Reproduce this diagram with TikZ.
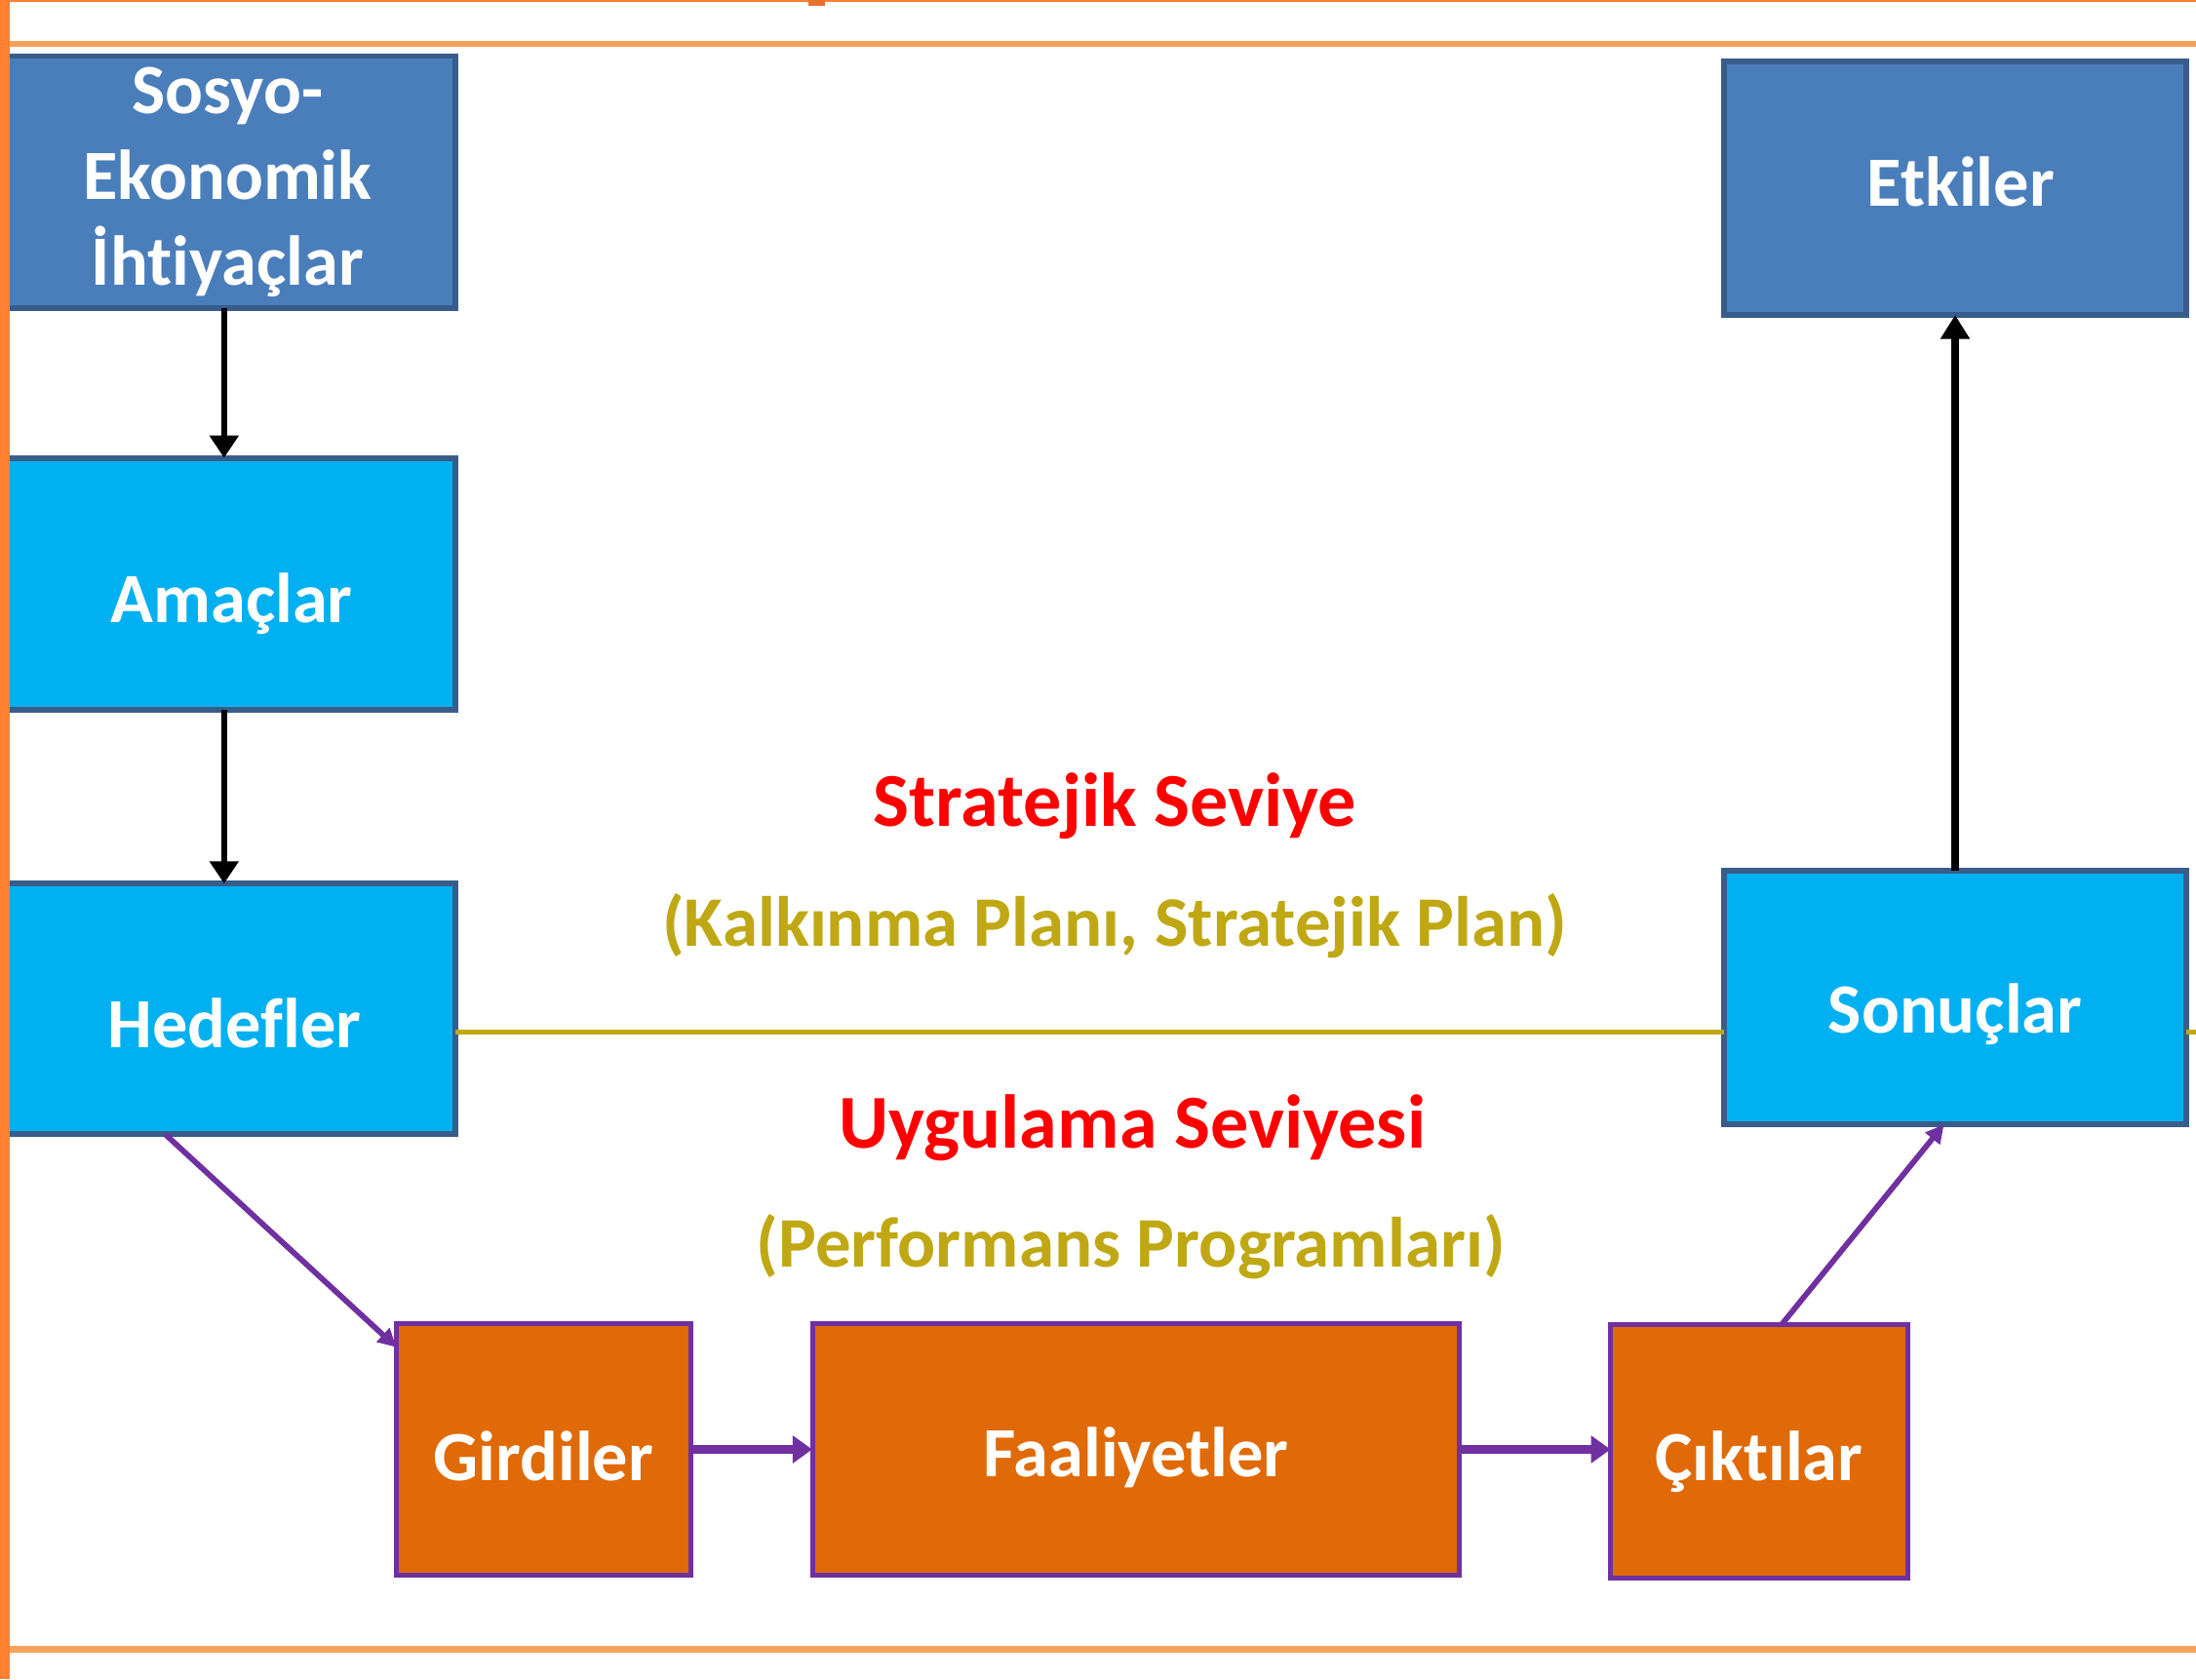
\documentclass[tikz,border=0pt]{standalone}
\usepackage{fontspec}
\setmainfont{Carlito}[Ligatures={CommonOff}]
\usetikzlibrary{arrows.meta,calc}
\definecolor{boxblue}{RGB}{74,126,187}
\definecolor{borderblue}{RGB}{56,93,138}
\definecolor{cyanfill}{RGB}{0,176,240}
\definecolor{orangefill}{RGB}{224,106,8}
\definecolor{boxpurple}{RGB}{112,48,160}
\definecolor{olivec}{RGB}{191,168,20}
\definecolor{redc}{RGB}{255,0,0}
\definecolor{frameorange}{RGB}{255,128,48}
\definecolor{framelight}{RGB}{245,162,90}
\begin{document}
\begin{tikzpicture}[x=0.5pt,y=-0.5pt,
  every node/.style={font=\fontsize{25.2pt}{30.75pt}\selectfont\bfseries},
  bluebox/.style={draw=borderblue, fill=boxblue, line width=2pt, inner sep=0pt, outer sep=0pt, text=white, align=center},
  cyanbox/.style={bluebox, fill=cyanfill},
  orangebox/.style={draw=boxpurple, fill=orangefill, line width=1.75pt, inner sep=0pt, outer sep=0pt, text=white},
  th/.style={text height=#1, text depth=0pt},
  blackarrow/.style={draw=black, line width=2.25pt, -{Triangle[width=10pt,length=8pt]}},
  purplediag/.style={draw=boxpurple, line width=2pt, -{Triangle[width=6.5pt,length=6.5pt]}},
  purplehoriz/.style={draw=boxpurple, line width=3pt, -{Triangle[width=9.5pt,length=7pt]}},
  oliveline/.style={draw=olivec, line width=1.75pt},
  levellabel/.style={anchor=base, inner sep=0pt, text=redc, font=\fontsize{27.2pt}{32pt}\selectfont\bfseries},
  sublabel/.style={anchor=base, inner sep=0pt, text=olivec, font=\fontsize{25.4pt}{30pt}\selectfont\bfseries}
]
\useasboundingbox[fill=white] (0,0) rectangle (1568,1199);

% boxes
\node[bluebox, minimum width=162.5pt, minimum height=90pt] (sosyo) at (162.5,130) {Sosyo-\\Ekonomik\\İhtiyaçlar};
\node[cyanbox, minimum width=162.5pt, minimum height=90pt, th=27.4pt] (amac) at (162.5,417) {\hspace*{3pt}Amaçlar};
\node[cyanbox, minimum width=162.5pt, minimum height=89.5pt, th=27.9pt] (hedef) at (162.5,720.5) {\hspace*{5pt}Hedefler};
\node[bluebox, minimum width=165pt, minimum height=90.5pt, th=12.9pt] (etki) at (1396,134.5) {\hspace*{4pt}Etkiler};
\node[cyanbox, minimum width=165pt, minimum height=90.5pt, th=24.9pt] (sonuc) at (1396,712.5) {Sonuçlar};
\node[orangebox, minimum width=105pt, minimum height=90pt, th=22.4pt] (girdi) at (388,1035) {Girdiler};
\node[orangebox, minimum width=231pt, minimum height=90pt, th=19.4pt] (faal) at (811,1035) {Faaliyetler};
\node[orangebox, minimum width=106pt, minimum height=90.5pt, th=20.9pt] (cikti) at (1256,1036.5) {Çıktılar};

% level labels
\node[levellabel] (strat) at (796,590) {Stratejik Seviye};
\node[sublabel] (kalk) at (796,676) {(Kalkınma Planı, Stratejik Plan)};
\node[levellabel] (uyg) at (808.5,819.5) {Uygulama Seviyesi};
\node[sublabel] (perf) at (807.5,904.5) {(Performans Programları)};

% olive separator
\coordinate (rightedge) at (1568,737);
\draw[oliveline] ([yshift=-8.25pt]hedef.east) -- ([yshift=-8.25pt]hedef.east -| sonuc.west);
\draw[oliveline] (rightedge -| sonuc.east) -- (rightedge);

% connectors
\draw[blackarrow] ([xshift=-1.25pt]sosyo.south) -- ([xshift=-1.25pt]amac.north);
\draw[blackarrow] ([xshift=-1.25pt]amac.south) -- ([xshift=-1.25pt]hedef.north);
\draw[draw=black, line width=3pt, -{Triangle[width=10pt,length=8.5pt]}] (sonuc.north) -- (etki.south);
\draw[purplediag] ([xshift=59pt]hedef.south west) -- ([yshift=-8.5pt]girdi.north west);
\draw[purplediag] ([xshift=61pt]cikti.north west) -- ([xshift=78.5pt]sonuc.south west);
\draw[purplehoriz] (girdi.east) -- (faal.west);
\draw[purplehoriz] (faal.east) -- (faal.east -| cikti.west);

% orange frame
\fill[frameorange] (0,0) rectangle (7,1199);
\fill[frameorange] (0,0) rectangle (1568,1.2);
\fill[framelight] (7,29.5) rectangle (1568,33.5);
\fill[framelight] (7,1175.5) rectangle (1568,1180);
\fill[frameorange!90!black] (577,0) rectangle (589,4);
\end{tikzpicture}
\end{document}
